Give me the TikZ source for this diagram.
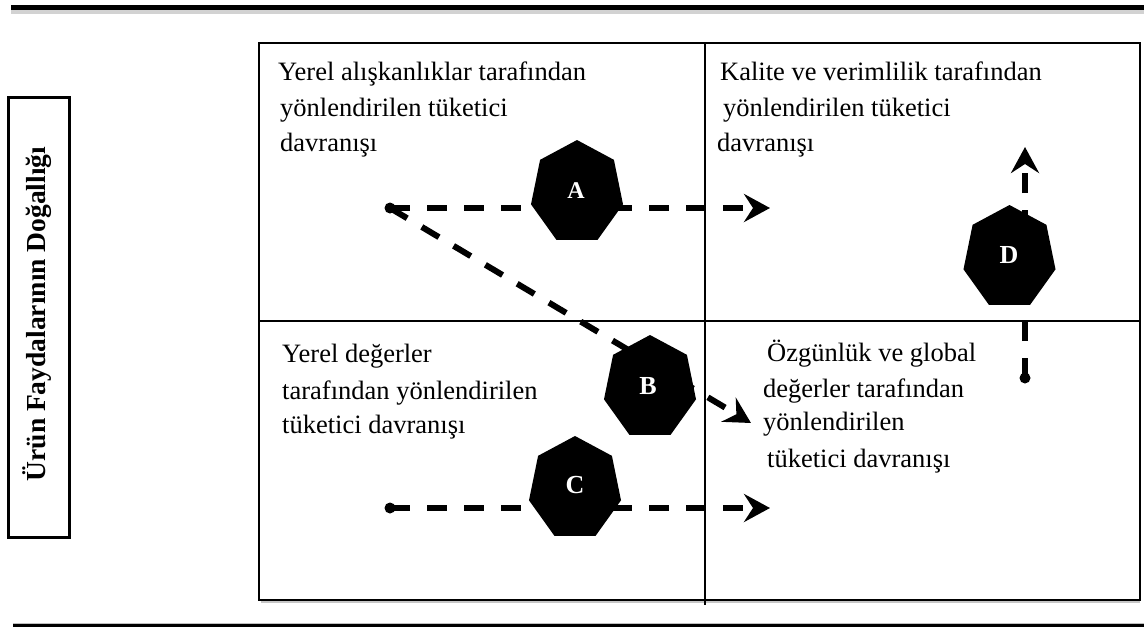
\documentclass[tikz,border=0pt]{standalone}
\usepackage{fontspec}
\setmainfont{Liberation Serif}
\usetikzlibrary{arrows.meta,shapes.geometric}
\tikzset{
  txt/.style={anchor=base west, inner sep=0pt, font=\fontsize{26.5}{30}\selectfont},
  lbl/.style={inner sep=0pt, text=white, font=\fontsize{26}{30}\selectfont\bfseries},
  flow/.style={line width=6pt, dash pattern=on 20pt off 17pt,
    -{Stealth[length=26pt,width=28pt,inset=9pt]}},
  hept/.style={fill=black},
  frame/.style={line width=1.6pt},
}
\newcommand\heptpath[1]{%
  \fill[hept,shift={(#1)}] (270:47.2 and 52.6)
    \foreach \k in {1,...,6}{ -- ({270+\k*360/7}:47.2 and 52.6)} -- cycle;}
\begin{document}
\begin{tikzpicture}[x=1pt,y=-1pt]
\useasboundingbox (0,0) rectangle (1144,627);
% rules
\draw[gray!35, line width=4pt] (11,12) -- (1144,12);
\draw[line width=5pt] (11,7) -- (1144,7);
\draw[gray!50, line width=1pt] (13,623) -- (1144,623);
\draw[line width=2.5pt] (13,625.5) -- (1144,625.5);
% left label
\node[draw, line width=3pt, minimum width=61pt, minimum height=440pt, inner sep=0pt] (side) at (38.5,317) {};
\node[rotate=90, inner sep=0pt, font=\fontsize{27.5}{30}\selectfont\bfseries] (sidetxt) at (37,314) {Ürün Faydalarının Doğallığı};
% main frame
\draw[gray!45, line width=1.2pt] (261,602) -- (1140,602);
\draw[frame] (259,43) rectangle (1140,600);
\coordinate (vtop) at (705,43);
\coordinate (vbot) at (705,605);
\coordinate (hl) at (259,321);
\coordinate (hr) at (1140,321);
\draw[frame] (vtop) -- (vbot);
\draw[frame] (hl) -- (hr);
% texts
\node[txt] (tl1) at (278,80) {Yerel alışkanlıklar tarafından};
\node[txt] (tl2) at (280,116) {yönlendirilen tüketici};
\node[txt] (tl3) at (280,151) {davranışı};
\node[txt] (tr1) at (720,80) {Kalite ve verimlilik tarafından};
\node[txt] (tr2) at (723,116) {yönlendirilen tüketici};
\node[txt] (tr3) at (717,151) {davranışı};
\node[txt] (bl1) at (282,362) {Yerel değerler};
\node[txt] (bl2) at (282,399) {tarafından yönlendirilen};
\node[txt] (bl3) at (282,433) {tüketici davranışı};
\node[txt] (br1) at (767,361) {Özgünlük ve global};
\node[txt] (br2) at (763,397) {değerler tarafından};
\node[txt] (br3) at (763,430) {yönlendirilen};
\node[txt] (br4) at (767,467) {tüketici davranışı};
% arrow endpoints
\coordinate (sA) at (390,208);
\coordinate (eA) at (770,208);
\coordinate (eB) at (751,423);
\coordinate (sC) at (390,508);
\coordinate (eC) at (770,508);
\coordinate (sD) at (1025,378);
\coordinate (eD) at (1025,147);
% arrows
\draw[flow] (sA) -- (eA);
\draw[flow] (sA) -- (eB);
\draw[flow] (sC) -- (eC);
\draw[flow] (sD) -- (eD);
\fill (sA) circle (5.5);
\fill (sC) circle (5.5);
\fill (sD) circle (5.5);
% heptagons
\heptpath{577,192.6}
\heptpath{650,387.6}
\heptpath{575,488.6}
\heptpath{1009.5,257.6}
\node[lbl, font=\fontsize{24}{28}\selectfont\bfseries] (hA) at (576,191) {A};
\node[lbl] (hB) at (648,386) {B};
\node[lbl] (hC) at (575,485) {C};
\node[lbl] (hD) at (1009,255) {D};
\end{tikzpicture}
\end{document}
